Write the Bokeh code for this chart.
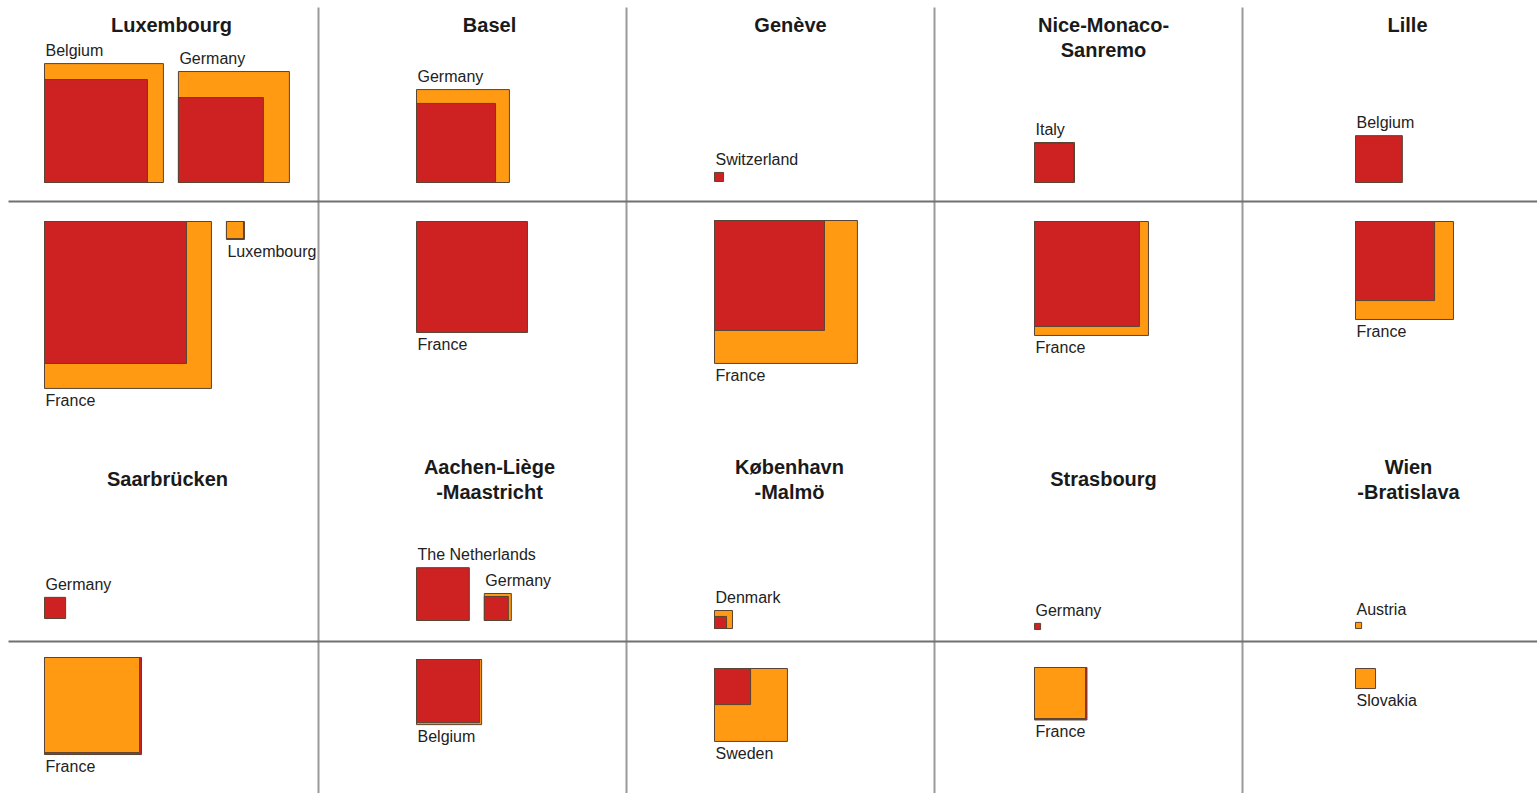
import math
from bokeh.plotting import figure
from bokeh.models import ColumnDataSource, Range1d
from bokeh.core.properties import value
from bokeh.embed import file_html
from bokeh.resources import INLINE

# ------------------------------------------------------------------ data
# cross-border metropolitan regions (panel titles, one list per text line)
region_titles = [
    ["Luxembourg"], ["Basel"], ["Genève"], ["Nice-Monaco-", "Sanremo"], ["Lille"],
    ["Saarbrücken"], ["Aachen-Liège", "-Maastricht"], ["København", "-Malmö"],
    ["Strasbourg"], ["Wien", "-Bratislava"],
]

# one entry per country flow
flow_region = [0, 0, 0, 0, 1, 1, 2, 2, 3, 3, 4, 4, 5, 5, 6, 6, 6, 7, 7, 8, 8, 9, 9]
flow_country = [
    "Belgium", "Germany", "France", "Luxembourg",
    "Germany", "France",
    "Switzerland", "France",
    "Italy", "France",
    "Belgium", "France",
    "Germany", "France",
    "The Netherlands", "Germany", "Belgium",
    "Denmark", "Sweden",
    "Germany", "France",
    "Austria", "Slovakia",
]
flow_group = [
    "above", "above", "below", "below",
    "above", "below",
    "above", "below",
    "above", "below",
    "above", "below",
    "above", "below",
    "above", "above", "below",
    "above", "below",
    "above", "below",
    "above", "below",
]
# commuters (square area proportional to value)
orange_values = [
    38000, 33100, 74900, 780,
    23200, 0,
    0, 54900,
    4300, 34900,
    0, 25800,
    0, 24300,
    0, 1960, 11400,
    870, 14300,
    0, 7000,
    100, 1080,
]
red_values = [
    28500, 19400, 54200, 870,
    16800, 33100,
    220, 32500,
    4100, 29600,
    5900, 16800,
    1200, 25300,
    7500, 1550, 10700,
    390, 3500,
    100, 7400,
    0, 0,
]

# ------------------------------------------------------------------ layout
W, H = 1537, 793
SCALE = 0.61            # px per sqrt(commuter)
GAP = 15
ORANGE = "#FF9A12"
RED = "#CD2122"
EDGE = "#5a4434"

col_square_x = [44, 416, 714, 1034, 1355]
upper_base = [182, 182, 181, 182, 182, 618, 620, 628, 629, 628]
lower_top = [221, 221, 220, 221, 221, 657, 659, 668, 667, 668]
title_x = [171, 489, 790, 1103, 1407, 167, 489, 789, 1103, 1408]
title_base_single = [24, 478]
title_base_double = [[24, 49], [466, 491]]
vline_x = [318, 626, 934, 1242]
hline_y = [201, 641]
LABEL_ABOVE = 13
LABEL_BELOW = 12

# ------------------------------------------------------------------ build
cursor = {}
back = dict(left=[], right=[], top=[], bottom=[], color=[])
front = dict(left=[], right=[], top=[], bottom=[], color=[])
lab = dict(x=[], y=[], text=[])

for i, r in enumerate(flow_region):
    col = r % 5
    grp = flow_group[i]
    key = (r, grp)
    x_left = cursor.get(key, col_square_x[col])
    so = SCALE * math.sqrt(orange_values[i])
    sr = SCALE * math.sqrt(red_values[i])
    big = max(so, sr)
    cursor[key] = x_left + big + GAP

    items = [(so, ORANGE), (sr, RED)]
    # larger square behind, smaller in front
    if sr > so:
        items = [(sr, RED), (so, ORANGE)]
    for layer, (s, c) in zip((back, front), items):
        if s <= 0:
            continue
        if grp == "above":
            b = upper_base[r]
            t = b - s
        else:
            t = lower_top[r]
            b = t + s
        layer["left"].append(x_left)
        layer["right"].append(x_left + s)
        layer["top"].append(t)
        layer["bottom"].append(b)
        layer["color"].append(c)

    lab["x"].append(x_left + 1)
    if grp == "above":
        lab["y"].append(upper_base[r] - big - LABEL_ABOVE)
    else:
        lab["y"].append(lower_top[r] + big + LABEL_BELOW)
    lab["text"].append(flow_country[i])

tit = dict(x=[], y=[], text=[])
for r, lines in enumerate(region_titles):
    row = r // 5
    if len(lines) == 1:
        ys = [title_base_single[row]]
    else:
        ys = title_base_double[row]
    for line, y in zip(lines, ys):
        tit["x"].append(title_x[r])
        tit["y"].append(y)
        tit["text"].append(line)

# ------------------------------------------------------------------ figure
p = figure(width=W, height=H, x_range=Range1d(0, W), y_range=Range1d(H, 0),
           output_backend="svg", toolbar_location=None, min_border=0,
           x_axis_type=None, y_axis_type=None)
p.grid.visible = False
p.outline_line_color = None
p.background_fill_color = "white"
p.border_fill_color = "white"

p.segment(x0=vline_x, x1=vline_x, y0=[7] * len(vline_x), y1=[793] * len(vline_x),
          line_color="#9a9a9a", line_width=2)
p.segment(x0=[8] * len(hline_y), x1=[1537] * len(hline_y), y0=hline_y, y1=hline_y,
          line_color="#707070", line_width=2)

for layer in (back, front):
    p.quad(left="left", right="right", top="top", bottom="bottom",
           fill_color="color", line_color=EDGE, line_width=1,
           source=ColumnDataSource(layer))

p.text(x="x", y="y", text="text", source=ColumnDataSource(lab),
       text_font=value("Liberation Sans"), text_font_size=value("16px"),
       text_align="left", text_baseline="alphabetic", text_color="#222222")

p.text(x="x", y="y", text="text", source=ColumnDataSource(tit),
       text_font=value("Liberation Sans"), text_font_size=value("20px"),
       text_font_style="bold", text_align="center", text_baseline="alphabetic",
       text_color="#1a1a1a")

open("out.html", "w").write(file_html(p, INLINE))
